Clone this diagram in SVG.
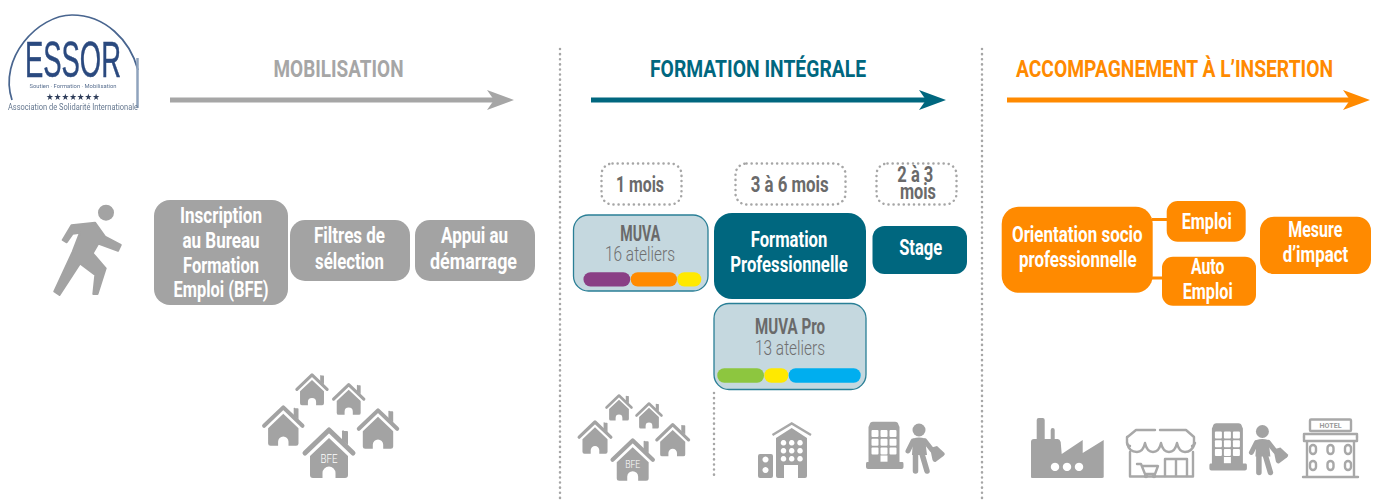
<svg xmlns="http://www.w3.org/2000/svg" width="1378" height="502" viewBox="0 0 1378 502">
<style>
text{font-family:"Roboto","Liberation Sans",sans-serif;text-anchor:middle}
.t{font-size:21.500px;font-weight:700;fill:#fff}
.h{font-size:24px;font-weight:700}
.d{font-size:22px;font-weight:700;fill:#6a6a6a}
.l{font-size:20px;font-weight:300;fill:#6f6f6f}
.grey{fill:#a3a3a3}.teal{fill:#00677f}.or{fill:#ff8a00}
.mu{fill:#c5d8df;stroke:#2a7f96;stroke-width:1.3}
.dash{fill:none;stroke:#a6a6a6;stroke-width:2.500;stroke-linecap:round;stroke-dasharray:.1 5}
.ic{fill:#a3a3a3}
.ol{fill:none;stroke:#a8a8a8;stroke-width:2.400;stroke-linecap:round;stroke-linejoin:round}
.lim{fill:none;stroke:#a3a3a3;stroke-linecap:round;stroke-linejoin:round}
.arr{fill:none;stroke-width:5}
</style>
<defs>
<filter id="soft" x="-5%" y="-5%" width="110%" height="110%"><feGaussianBlur stdDeviation="0.55"/></filter>
<clipPath id="logoclip"><rect x="0" y="0" width="139.500" height="115"/></clipPath>
<marker id="ag" markerUnits="userSpaceOnUse" markerWidth="30" markerHeight="24" refX="8" refY="12" viewBox="0 0 30 24" orient="auto"><path d="M1 2 28 12 1 22 8 12Z" fill="#a6a6a6"/></marker>
<marker id="at" markerUnits="userSpaceOnUse" markerWidth="30" markerHeight="24" refX="8" refY="12" viewBox="0 0 30 24" orient="auto"><path d="M1 2 28 12 1 22 8 12Z" fill="#00677f"/></marker>
<marker id="ao" markerUnits="userSpaceOnUse" markerWidth="30" markerHeight="24" refX="8" refY="12" viewBox="0 0 30 24" orient="auto"><path d="M1 2 28 12 1 22 8 12Z" fill="#ff8a00"/></marker>
<g id="house">
<path d="M-24 26 0 3 24 26" fill="none" stroke="#a3a3a3" stroke-width="5" stroke-linecap="round" stroke-linejoin="round"/>
<path d="M13 13V5a1 1 0 0 1 2-1h3a1 1 0 0 1 1 1v13Z" class="ic"/>
<path fill-rule="evenodd" class="ic" d="M0 11 19 29V48a3 3 0 0 1-3 3H-16a3 3 0 0 1-3-3V29ZM-6.500 51V46a6.500 6.500 0 0 1 13 0V51Z"/>
</g>
<g id="hotelman">
<path fill-rule="evenodd" class="ic" d="M873 421.700h22q3 0 3.500 3l1 2.300v35h3q1 0 1 2v3q0 2-2 2H868q-2 0-2-2v-3q0-2 1-2h1.500V427l1-2.300q.5-3 3.500-3Z"/>
<g fill="#fff"><rect x="871.500" y="430" width="7" height="7" rx="1"/><rect x="880.500" y="430" width="7" height="7" rx="1"/><rect x="889.500" y="430" width="7" height="7" rx="1"/><rect x="871.500" y="438.700" width="7" height="7" rx="1"/><rect x="880.500" y="438.700" width="7" height="7" rx="1"/><rect x="889.500" y="438.700" width="7" height="7" rx="1"/><rect x="871.500" y="447.400" width="7" height="7" rx="1"/><rect x="880.500" y="447.400" width="7" height="7" rx="1"/><rect x="889.500" y="447.400" width="7" height="7" rx="1"/><rect x="880.500" y="455.500" width="7" height="6.200"/></g>
<circle cx="919" cy="430" r="6.500" class="ic"/>
<path class="lim" stroke-width="5" d="M913 441 908 451M925 441 932 450"/>
<path class="ic" d="M913 438.500Q919 436.500 925 438.500L927 455H912Z"/>
<path class="lim" stroke-width="5.500" d="M915.500 454 915.500 471M922 454 927 471"/>
<path class="ic" d="M930 448l7-2 7.500 7q1 1.500-1 3l-8 6q-2 .5-3-2Z"/>
</g>
</defs>

<g id="logo" clip-path="url(#logoclip)">
<g filter="url(#soft)">
<path d="M12 100C-2 58 38 15 72 15 105 15 130 40 138 70" fill="none" stroke="#48658f" stroke-width="1.700"/>
<path d="M137.500 58V108" stroke="#8fa3bd" stroke-width="2.500"/>
<text x="73" y="77" font-size="50" fill="#2b4a7f" stroke="#2b4a7f" stroke-width=".5" textLength="96" lengthAdjust="spacingAndGlyphs" style="font-family:'Liberation Sans',sans-serif">ESSOR</text>
<text x="73" y="88" font-size="5" fill="#5a7090" textLength="87" lengthAdjust="spacingAndGlyphs">Soutien · Formation · Mobilisation</text>
<text x="73" y="100" font-size="9" fill="#2f3d5a" textLength="54" lengthAdjust="spacingAndGlyphs" style="font-family:'DejaVu Sans',sans-serif">★★★★★★★</text>
<text x="73" y="110" font-size="9" fill="#65778f" textLength="130" lengthAdjust="spacingAndGlyphs">Association de Solidarité Internationale</text>
</g>
</g>

<g id="headers">
<text class="h" x="338.500" y="77" fill="#a6a6a6" textLength="130" lengthAdjust="spacingAndGlyphs">MOBILISATION</text>
<text class="h" x="758" y="77" fill="#00677f" textLength="216" lengthAdjust="spacingAndGlyphs">FORMATION INTÉGRALE</text>
<text class="h" transform="translate(1174.500 77) scale(.7 1)" x="0" y="0" fill="#ff8a00" textLength="453" lengthAdjust="spacingAndGlyphs">ACCOMPAGNEMENT À L’INSERTION</text>
</g>

<g id="connectors">
<path class="arr" stroke="#a6a6a6" d="M170 100H494" marker-end="url(#ag)"/>
<path class="arr" stroke="#00677f" d="M591 100H926" marker-end="url(#at)"/>
<path class="arr" stroke="#ff8a00" d="M1007 100H1350" marker-end="url(#ao)"/>
<path class="dash" d="M560 49V498"/>
<path class="dash" d="M982 49V498"/>
<path class="dash" d="M714 393V478"/>
<path d="M1152 219.500H1168M1152 278H1163" stroke="#ff8a00" stroke-width="3" fill="none"/>
</g>

<g id="runner">
<circle cx="106" cy="212.700" r="8" class="ic"/>
<path class="ic" stroke="#a3a3a3" stroke-width="2" stroke-linejoin="round" d="M71.500 225.300 95 222.700 105 236.700 120.700 245 118 250.700 98.300 243.500 92.700 253.300 105.700 268.300 97.500 294 93.300 294 95.300 275 80 263.500 59.500 295 54.300 291.500 72.700 251.700 80 232.700 72.700 233.700 66.700 242.300 62.700 240Z"/>
</g>

<g id="n-inscription"><rect class="grey" x="154" y="200" width="134" height="105" rx="16"/>
<text class="t" x="221" y="222.500" textLength="82" lengthAdjust="spacingAndGlyphs">Inscription</text>
<text class="t" x="221" y="247.500" textLength="77" lengthAdjust="spacingAndGlyphs">au Bureau</text>
<text class="t" x="221" y="272.500" textLength="76" lengthAdjust="spacingAndGlyphs">Formation</text>
<text class="t" x="221" y="297" textLength="95" lengthAdjust="spacingAndGlyphs">Emploi (BFE)</text></g>
<g id="n-filtres"><rect class="grey" x="290" y="220" width="120" height="61" rx="15"/>
<text class="t" x="349.500" y="243" textLength="71" lengthAdjust="spacingAndGlyphs">Filtres de</text>
<text class="t" x="349.500" y="269" textLength="69" lengthAdjust="spacingAndGlyphs">sélection</text></g>
<g id="n-appui"><rect class="grey" x="415" y="220" width="120" height="61" rx="15"/>
<text class="t" x="474.500" y="243" textLength="67" lengthAdjust="spacingAndGlyphs">Appui au</text>
<text class="t" x="473.500" y="269" textLength="87" lengthAdjust="spacingAndGlyphs">démarrage</text></g>

<g id="houses-1">
<use href="#house" transform="translate(312 373) scale(.63)"/>
<use href="#house" transform="translate(348.700 382.700) scale(.63)"/>
<use href="#house" transform="translate(283.300 405) scale(.8)"/>
<use href="#house" transform="translate(378 408) scale(.8)"/>
<use href="#house" transform="translate(329 427)"/>
<text x="329" y="463" font-size="13" font-weight="300" fill="#fff" textLength="17" lengthAdjust="spacingAndGlyphs">BFE</text>
</g>

<g id="n-1mois"><rect class="dash" x="601.500" y="163.500" width="80" height="41" rx="11"/>
<text class="d" x="640" y="192" textLength="48" lengthAdjust="spacingAndGlyphs">1 mois</text></g>
<g id="n-36mois"><rect class="dash" x="735.500" y="163.500" width="110" height="41" rx="11"/>
<text class="d" x="789.700" y="192" textLength="78" lengthAdjust="spacingAndGlyphs">3 à 6 mois</text></g>
<g id="n-23mois"><rect class="dash" x="876.500" y="163.500" width="80" height="41" rx="11"/>
<text class="d" x="915.300" y="181.700" textLength="36" lengthAdjust="spacingAndGlyphs">2 à 3</text>
<text class="d" x="918" y="199" textLength="36" lengthAdjust="spacingAndGlyphs">mois</text></g>

<g id="n-muva"><rect class="mu" x="573.500" y="215" width="134.500" height="76" rx="15"/>
<text class="d" x="640.300" y="241" textLength="40" lengthAdjust="spacingAndGlyphs">MUVA</text>
<text class="l" x="640" y="261" textLength="70" lengthAdjust="spacingAndGlyphs">16 ateliers</text>
<rect x="583.500" y="272.300" width="46.700" height="14.200" rx="7" fill="#8a3f85"/>
<rect x="630.700" y="272.300" width="46.300" height="14.200" rx="7" fill="#ff8a00"/>
<rect x="677.300" y="272.300" width="24" height="14.200" rx="7" fill="#ffe900"/></g>
<g id="n-formation"><rect class="teal" x="714" y="213" width="152" height="86" rx="18"/>
<text class="t" x="789" y="246.700" textLength="76.500" lengthAdjust="spacingAndGlyphs">Formation</text>
<text class="t" x="789" y="271.700" textLength="117.500" lengthAdjust="spacingAndGlyphs">Professionnelle</text></g>
<g id="n-stage"><rect class="teal" x="872.500" y="226" width="94.500" height="48" rx="12"/>
<text class="t" x="920.700" y="255" textLength="43" lengthAdjust="spacingAndGlyphs">Stage</text></g>
<g id="n-muvapro"><rect class="mu" x="714" y="303.500" width="152" height="86" rx="15"/>
<text class="d" x="790" y="334" textLength="70" lengthAdjust="spacingAndGlyphs">MUVA Pro</text>
<text class="l" x="790" y="355" textLength="70" lengthAdjust="spacingAndGlyphs">13 ateliers</text>
<rect x="717.300" y="368.300" width="46.700" height="14.400" rx="7" fill="#8dc63f"/>
<rect x="764.300" y="368.300" width="24" height="14.400" rx="7" fill="#ffe900"/>
<rect x="788.700" y="368.300" width="72" height="14.400" rx="7" fill="#00aeef"/></g>

<g id="houses-2">
<use href="#house" transform="translate(619 394) scale(.52)"/>
<use href="#house" transform="translate(649 402) scale(.52)"/>
<use href="#house" transform="translate(595 420) scale(.66)"/>
<use href="#house" transform="translate(672.700 422.700) scale(.66)"/>
<use href="#house" transform="translate(632.700 438) scale(.84)"/>
<text x="632.700" y="468" font-size="11" font-weight="300" fill="#fff" textLength="15" lengthAdjust="spacingAndGlyphs">BFE</text>
</g>

<g id="building">
<path d="M772.500 435 791.700 423.500 811 435" fill="none" stroke="#a8a8a8" stroke-width="2.400"/>
<path fill-rule="evenodd" class="ic" d="M791.700 428 807 438V476q0 2-2 2H778q-2 0-2-2V438ZM784 478V465h14V478ZM783.500 440a2.800 2.800 0 1 0 .01 0ZM791.700 440a2.800 2.800 0 1 0 .01 0ZM800 440a2.800 2.800 0 1 0 .01 0ZM783.500 448a2.800 2.800 0 1 0 .01 0ZM791.700 448a2.800 2.800 0 1 0 .01 0ZM800 448a2.800 2.800 0 1 0 .01 0ZM783.500 456a2.800 2.800 0 1 0 .01 0ZM791.700 456a2.800 2.800 0 1 0 .01 0ZM800 456a2.800 2.800 0 1 0 .01 0Z"/>
<path fill-rule="evenodd" class="ic" d="M760 454h11q2 0 2 2v20q0 2-2 2H760q-2 0-2-2V456q0-2 2-2ZM765.500 456.500a3 3 0 1 0 .01 0ZM765.500 467a3 3 0 1 0 .01 0Z"/>
</g>
<g id="hotel-person-1"><use href="#hotelman"/></g>

<g id="n-orientation"><rect class="or" x="1001.700" y="206.700" width="151" height="86" rx="17"/>
<text class="t" x="1077.300" y="241.700" textLength="130.700" lengthAdjust="spacingAndGlyphs">Orientation socio</text>
<text class="t" x="1077.800" y="267.300" textLength="117.700" lengthAdjust="spacingAndGlyphs">professionnelle</text></g>
<g id="n-emploi"><rect class="or" x="1166.700" y="201" width="79" height="40.700" rx="11"/>
<text class="t" x="1206.700" y="229.300" textLength="50" lengthAdjust="spacingAndGlyphs">Emploi</text></g>
<g id="n-auto"><rect class="or" x="1162" y="256.700" width="94" height="49" rx="11"/>
<text class="t" x="1207.700" y="274.300" textLength="33.300" lengthAdjust="spacingAndGlyphs">Auto</text>
<text class="t" x="1207.700" y="299.300" textLength="50" lengthAdjust="spacingAndGlyphs">Emploi</text></g>
<g id="n-mesure"><rect class="or" x="1260" y="216.700" width="111" height="57.300" rx="14"/>
<text class="t" x="1315.300" y="236.700" textLength="54" lengthAdjust="spacingAndGlyphs">Mesure</text>
<text class="t" x="1315.500" y="261.700" textLength="65.600" lengthAdjust="spacingAndGlyphs">d’impact</text></g>

<g id="factory">
<path fill-rule="evenodd" class="ic" d="M1036.700 439V420q0-2 2-2h4q2 0 2 2V439h6V430q0-2 2-2t2 2v9h3q2 0 3 3l1 12 21-14v13l21-13v37q0 1-2 1H1032q-1 0-1-1V442q0-3 3-3ZM1055 462.700a4.200 4.200 0 1 0 .01 0ZM1067 462.700a4.200 4.200 0 1 0 .01 0ZM1079 462.700a4.200 4.200 0 1 0 .01 0Z"/>
</g>
<g id="shop" class="ol">
<path d="M1127 437V442Q1127 446 1130 446M1127.500 437 1136 430H1155M1160 430H1186L1194 437V442Q1194 446 1192 446"/>
<path d="M1127 443Q1129 452 1137 452 1143 452 1145 443 1147 452 1153 452 1159 452 1161 443 1163 452 1169 452 1175 452 1177 443 1179 452 1185 452 1192 452 1195 443"/>
<path d="M1130 452V476.500H1193V452"/>
<path d="M1165 476V459H1187V476M1176 459V476"/>
<path d="M1137 464H1141L1145 474H1155L1158 466H1143"/>
<circle cx="1146" cy="476" r="1"/><circle cx="1154" cy="476" r="1"/>
</g>
<g id="hotel-person-2"><use href="#hotelman" transform="translate(343.400 1.500)"/></g>
<g id="hotel" class="ol">
<rect x="1310" y="419.500" width="41" height="11.500" rx="1"/>
<text x="1330.500" y="428.300" font-size="7.500" font-weight="700" fill="#9a9a9a" stroke="none" textLength="22" lengthAdjust="spacingAndGlyphs">HOTEL</text>
<path d="M1304 434H1357M1304 437V434M1357 437V434"/>
<path d="M1304 437V441H1357V437M1307 441V476M1354 441V476M1303 477H1358"/>
<rect x="1310" y="445" width="6" height="9" rx="3"/><rect x="1327.500" y="445" width="6" height="9" rx="3"/><rect x="1345" y="445" width="6" height="9" rx="3"/>
<rect x="1310" y="461" width="6" height="9" rx="3"/><rect x="1327.500" y="461" width="6" height="9" rx="3"/><rect x="1345" y="461" width="6" height="9" rx="3"/>
</g>
</svg>
